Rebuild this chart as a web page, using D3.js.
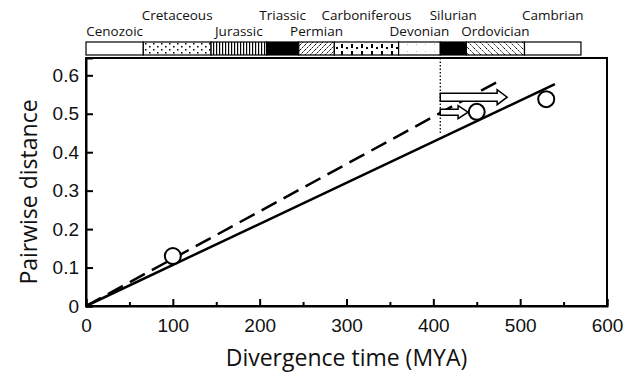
<!DOCTYPE html>
<html>
<head>
<meta charset="utf-8">
<script src="https://cdn.jsdelivr.net/npm/d3@7"></script>
<style>
  body { margin: 0; background: #fff; }
  svg { display: block; font-family: "Open Sans", "DejaVu Sans", sans-serif; }
</style>
</head>
<body>
<div id="chart"></div>
<script>
// geological periods (older time scale, MYA)
const periodNames = ["Cenozoic", "Cretaceous", "Jurassic", "Triassic", "Permian",
  "Carboniferous", "Devonian", "Silurian", "Ordovician", "Cambrian"];
const periodStart = [0, 66, 144, 208, 245, 286, 360, 408, 438, 505];
const periodEnd = [66, 144, 208, 245, 286, 360, 408, 438, 505, 570];

// observed pairwise distances
const pointTime = [100, 450, 530];
const pointDist = [0.13, 0.505, 0.538];

// regression lines
const solidTime = [0, 540];
const solidDist = [0, 0.577];
const dashTime = [0, 477];
const dashDist = [0, 0.587];

// divergence ranges (arrows)
const arrowFrom = [408, 408];
const arrowTo = [485, 440];
const arrowDist = [0.543, 0.504];
const markerTime = 408;
const markerDistLow = 0.45;

const xTicks = [0, 100, 200, 300, 400, 500, 600];
const yTicks = [0, 0.1, 0.2, 0.3, 0.4, 0.5, 0.6];

const width = 642, height = 374;
const margin = { left: 86, right: 35, top: 58, bottom: 68 };

const svg = d3.select("#chart").append("svg")
  .attr("width", width)
  .attr("height", height);

const x = d3.scaleLinear().domain([0, 600]).range([margin.left, width - margin.right]);
const y = d3.scaleLinear().domain([0, 0.645]).range([height - margin.bottom, margin.top]);

// patterns for the time bar
const defs = svg.append("defs");
function pat(id, w, h, draw) {
  const p = defs.append("pattern").attr("id", id)
    .attr("patternUnits", "userSpaceOnUse").attr("width", w).attr("height", h);
  p.append("rect").attr("width", w).attr("height", h).attr("fill", "#fff");
  draw(p);
}
pat("dots", 8, 6, p => {
  p.append("rect").attr("x", 1).attr("y", 1).attr("width", 1.5).attr("height", 1.5).attr("fill", "#000");
  p.append("rect").attr("x", 5).attr("y", 4).attr("width", 1.5).attr("height", 1.5).attr("fill", "#000");
});
pat("vlines", 3, 4, p => {
  p.append("rect").attr("x", 0).attr("y", 0).attr("width", 1.2).attr("height", 4).attr("fill", "#000");
});
pat("diagR", 5, 5, p => {
  p.append("path").attr("d", "M0,5 L5,0 M-1,1 L1,-1 M4,6 L6,4").attr("stroke", "#000")
    .attr("stroke-width", 1).attr("stroke-dasharray", "2,1");
});
pat("bricks", 10, 14, p => {
  p.append("rect").attr("x", 1).attr("y", 2).attr("width", 2).attr("height", 4).attr("fill", "#000");
  p.append("rect").attr("x", 6).attr("y", 5).attr("width", 2).attr("height", 2).attr("fill", "#000");
  p.append("rect").attr("x", 1).attr("y", 9).attr("width", 2).attr("height", 4).attr("fill", "#000");
});
pat("faint", 9, 7, p => {
  p.append("rect").attr("x", 2).attr("y", 2).attr("width", 1).attr("height", 1).attr("fill", "#bbb");
});
pat("diagL", 6, 6, p => {
  p.append("path").attr("d", "M0,0 L6,6 M-1,5 L1,7 M5,-1 L7,1").attr("stroke", "#000")
    .attr("stroke-width", 1).attr("stroke-dasharray", "1.5,1");
});
const fills = ["#fff", "url(#dots)", "url(#vlines)", "#000", "url(#diagR)",
  "url(#bricks)", "url(#faint)", "#000", "url(#diagL)", "#fff"];

const barTop = 42, barBottom = 55;
const bar = svg.append("g");
bar.selectAll("rect")
  .data(periodNames)
  .enter()
  .append("rect")
  .attr("x", (d, i) => x(periodStart[i]))
  .attr("y", barTop)
  .attr("width", (d, i) => x(periodEnd[i]) - x(periodStart[i]))
  .attr("height", barBottom - barTop)
  .attr("fill", (d, i) => fills[i])
  .attr("stroke", "#000")
  .attr("stroke-width", 1.2);

bar.selectAll("text")
  .data(periodNames)
  .enter()
  .append("text")
  .text(d => d)
  .attr("x", (d, i) => x((periodStart[i] + periodEnd[i]) / 2))
  .attr("y", (d, i) => i % 2 === 0 ? 36 : 20)
  .attr("text-anchor", "middle")
  .attr("font-size", 13.5)
  .attr("fill", "#111");

// frame
svg.append("rect")
  .attr("x", x(0)).attr("y", y(0.645))
  .attr("width", x(600) - x(0)).attr("height", y(0) - y(0.645))
  .attr("fill", "none").attr("stroke", "#000").attr("stroke-width", 2);

// x axis
svg.append("g")
  .attr("transform", `translate(0,${y(0)})`)
  .call(d3.axisBottom(x).tickValues(xTicks).tickSize(-7).tickPadding(13).tickFormat(d3.format("d")));
svg.append("g")
  .attr("transform", `translate(0,${y(0)})`)
  .call(d3.axisBottom(x).tickValues(d3.range(50, 600, 100)).tickSize(-4).tickFormat(""))
  .call(g => g.select(".domain").remove());

// y axis
svg.append("g")
  .attr("transform", `translate(${x(0)},0)`)
  .call(d3.axisLeft(y).tickValues(yTicks).tickSize(-7).tickPadding(7)
    .tickFormat(d => d === 0 ? "0" : d3.format(".1f")(d)));

svg.selectAll(".tick line").attr("stroke-width", 2);
svg.selectAll(".domain").attr("stroke-width", 2);
svg.selectAll(".tick text").attr("font-size", 19).attr("fill", "#111");

// axis titles
svg.append("text")
  .text("Divergence time (MYA)")
  .attr("x", (x(0) + x(600)) / 2)
  .attr("y", 366)
  .attr("text-anchor", "middle")
  .attr("font-size", 23)
  .attr("fill", "#111");

svg.append("text")
  .text("Pairwise distance")
  .attr("transform", `translate(37,${(y(0) + y(0.645)) / 2 + 10}) rotate(-90)`)
  .attr("text-anchor", "middle")
  .attr("font-size", 23)
  .attr("fill", "#111");

// marker line at Silurian/Devonian boundary
svg.append("line")
  .attr("x1", x(markerTime)).attr("x2", x(markerTime))
  .attr("y1", y(0.645)).attr("y2", y(markerDistLow))
  .attr("stroke", "#000").attr("stroke-width", 1.3)
  .attr("stroke-dasharray", "1.5,2");

// regression lines
const line = d3.line().x(d => x(d[0])).y(d => y(d[1]));
svg.append("path")
  .attr("d", line(dashTime.map((t, i) => [t, dashDist[i]])))
  .attr("fill", "none").attr("stroke", "#000").attr("stroke-width", 2.5)
  .attr("stroke-dasharray", "17,8");
svg.append("path")
  .attr("d", line(solidTime.map((t, i) => [t, solidDist[i]])))
  .attr("fill", "none").attr("stroke", "#000").attr("stroke-width", 2.5);

// arrows
const shaft = [4, 3], head = [7.5, 6.5], headLen = 10;
svg.selectAll("path.arrow")
  .data(arrowFrom)
  .enter()
  .append("path")
  .attr("class", "arrow")
  .attr("d", (d, i) => {
    const x0 = x(arrowFrom[i]), x1 = x(arrowTo[i]), yc = y(arrowDist[i]);
    const s = shaft[i], h = head[i];
    return `M${x0},${yc - s} L${x1 - headLen},${yc - s} L${x1 - headLen},${yc - h} L${x1},${yc}
      L${x1 - headLen},${yc + h} L${x1 - headLen},${yc + s} L${x0},${yc + s} Z`;
  })
  .attr("fill", "#fff").attr("stroke", "#000").attr("stroke-width", 1.5);

// points
svg.selectAll("circle.pt")
  .data(pointTime)
  .enter()
  .append("circle")
  .attr("class", "pt")
  .attr("cx", (d, i) => x(d))
  .attr("cy", (d, i) => y(pointDist[i]))
  .attr("r", 8)
  .attr("fill", "#fff")
  .attr("stroke", "#000")
  .attr("stroke-width", 2);
</script>
</body>
</html>
